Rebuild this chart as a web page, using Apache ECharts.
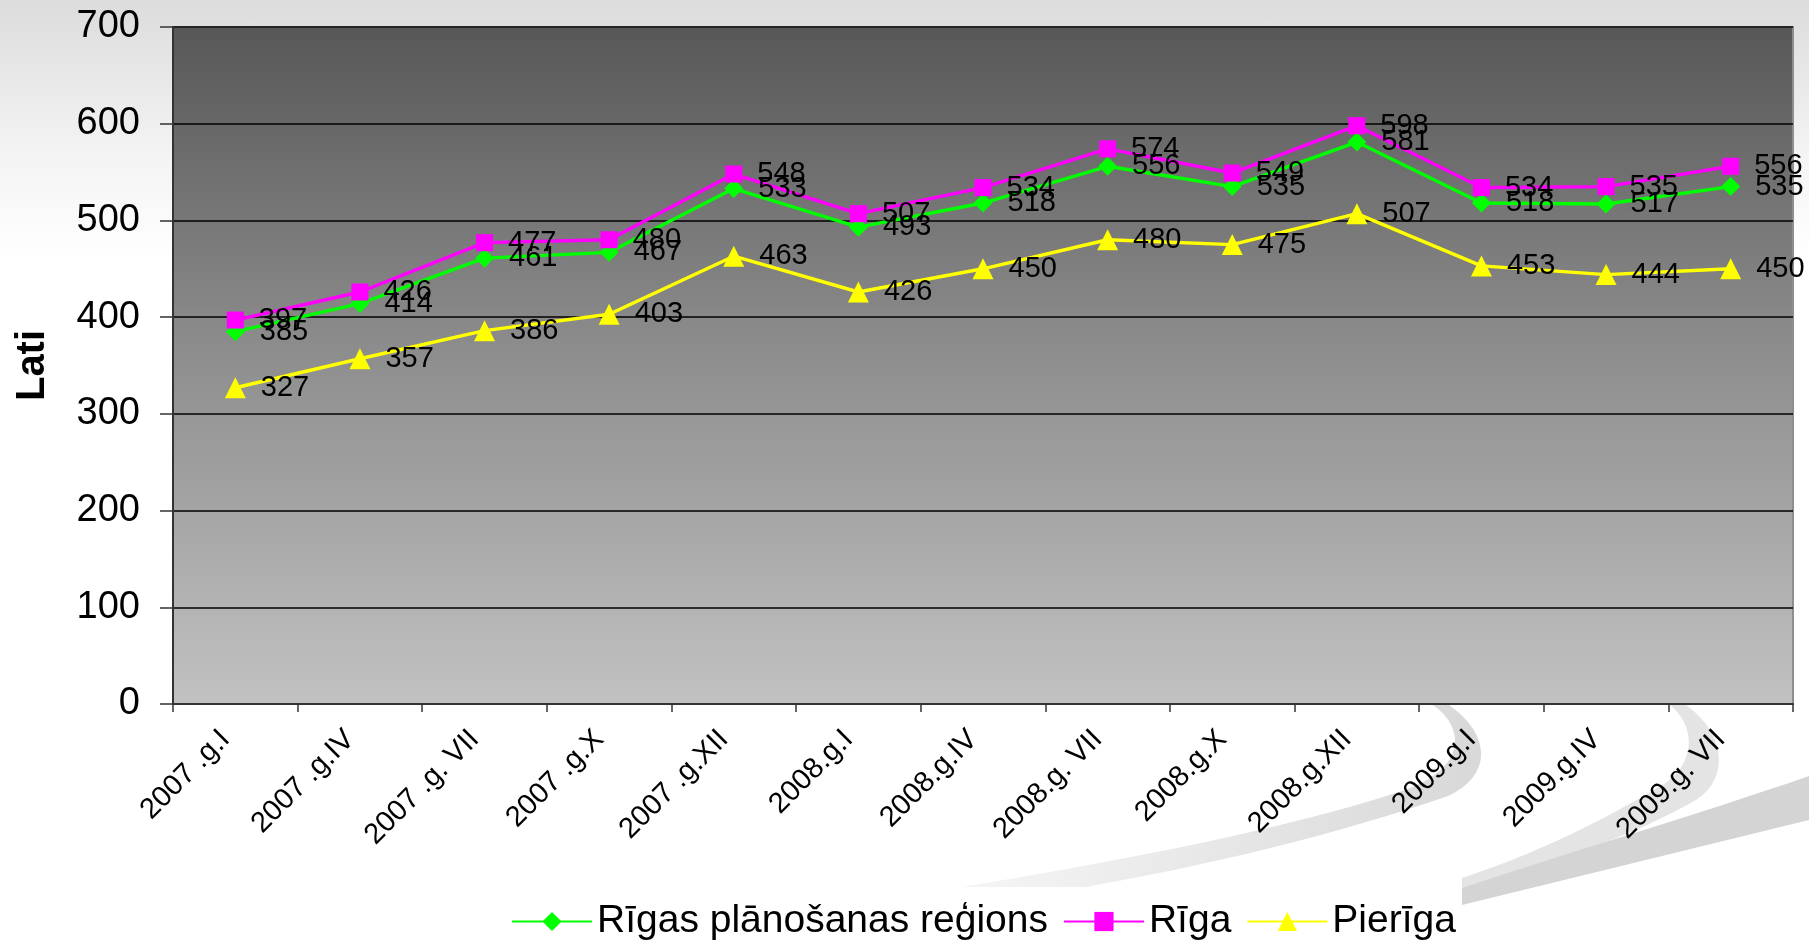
<!DOCTYPE html>
<html>
<head>
<meta charset="utf-8">
<script src="https://cdn.jsdelivr.net/npm/echarts@6/dist/echarts.min.js"></script>
<style>
html,body{margin:0;padding:0;width:1809px;height:944px;overflow:hidden;
background:linear-gradient(to bottom,#dcdcdc 0px,#f3f3f3 150px,#ffffff 260px,#ffffff 944px);}
#c{width:1809px;height:944px;}
</style>
</head>
<body>
<div id="c"></div>
<script>
const categories = ['2007 .g.I','2007 .g.IV','2007 .g. VII','2007 .g.X','2007 .g.XII','2008.g.I','2008.g.IV','2008.g. VII','2008.g.X','2008.g.XII','2009.g.I','2009.g.IV','2009.g. VII'];
const regionValues = [385, 414, 461, 467, 533, 493, 518, 556, 535, 581, 518, 517, 535];
const rigaValues = [397, 426, 477, 480, 548, 507, 534, 574, 549, 598, 534, 535, 556];
const pierigaValues = [327, 357, 386, 403, 463, 426, 450, 480, 475, 507, 453, 444, 450];
const seriesNames = ['Rīgas plānošanas reģions', 'Rīga', 'Pierīga'];
const yTicks = {min: 0, max: 700, interval: 100};

const FONT = "'Liberation Sans', Arial, sans-serif";
const chart = echarts.init(document.getElementById('c'), null, {renderer: 'canvas'});
const LG = echarts.graphic.LinearGradient;

// decorative background swooshes: segments are [start, ctrl1, ctrl2, end] cubic beziers or [start,end] lines
function outline(segs) {
  const pts = [];
  segs.forEach(s => {
    if (s.length === 2) { pts.push(s[0], s[1]); return; }
    for (let i = 0; i <= 16; i++) {
      const t = i / 16, u = 1 - t;
      pts.push([
        u*u*u*s[0][0] + 3*u*u*t*s[1][0] + 3*u*t*t*s[2][0] + t*t*t*s[3][0],
        u*u*u*s[0][1] + 3*u*u*t*s[1][1] + 3*u*t*t*s[2][1] + t*t*t*s[3][1]
      ]);
    }
  });
  return pts;
}
const swoosh1 = outline([
  [[1433,705],[1466,728],[1466,768],[1405,790]],
  [[1405,790],[1320,818],[1190,850],[955,888]],
  [[955,888],[1080,888]],
  [[1080,888],[1210,865],[1335,835],[1448,796]],
  [[1448,796],[1492,776],[1492,735],[1449,705]]
]);
const swoosh2 = outline([
  [[1670,705],[1695,725],[1697,762],[1664,784]],
  [[1664,784],[1600,822],[1540,852],[1462,878]],
  [[1462,878],[1462,890]],
  [[1462,890],[1560,862],[1640,832],[1696,800]],
  [[1696,800],[1728,780],[1728,735],[1686,705]]
]);
const swoosh3 = outline([
  [[1809,776],[1809,820]],
  [[1809,820],[1462,905]],
  [[1462,905],[1462,888]],
  [[1462,888],[1560,855],[1700,814],[1809,776]]
]);

function mkSeries(name, data, color, symbol, size) {
  return {
    name: name, type: 'line', data: data,
    symbol: symbol, symbolSize: size,
    lineStyle: {color: color, width: 3.4},
    itemStyle: {color: color},
    label: {show: true, position: 'right', distance: 15, color: '#000', fontSize: 29, fontFamily: FONT},
    emphasis: {disabled: true},
    animation: false
  };
}

chart.setOption({
  animation: false,
  graphic: [
    {type: 'polygon', z: -1, shape: {points: swoosh1},
     style: {fill: new LG(0, 0, 1, 0, [{offset: 0, color: '#f6f6f6'}, {offset: 1, color: '#d8d8d8'}])}},
    {type: 'polygon', z: -1, shape: {points: swoosh2}, style: {fill: '#e4e4e4'}},
    {type: 'polygon', z: -1, shape: {points: swoosh3}, style: {fill: '#d4d4d4'}},
    {type: 'rect', z: -1, shape: {x: 496, y: 887, width: 966, height: 57}, style: {fill: '#ffffff'}}
  ],
  grid: {
    left: 173, right: 16, top: 27, bottom: 240,
    show: true,
    borderColor: '#8e8e8e', borderWidth: 2,
    backgroundColor: new LG(0, 0, 0, 1, [{offset: 0, color: '#575757'}, {offset: 0.45, color: '#8a8a8a'}, {offset: 1, color: '#c2c2c2'}])
  },
  legend: {
    left: 506, top: 897,
    itemWidth: 80, itemHeight: 24, itemGap: 15,
    textStyle: {color: '#000', fontSize: 39, fontFamily: FONT},
    data: seriesNames
  },
  xAxis: {
    type: 'category', data: categories, boundaryGap: true,
    axisLine: {lineStyle: {color: '#333', width: 2}},
    axisTick: {show: true, length: 8, lineStyle: {color: '#333', width: 1.5}},
    axisLabel: {rotate: 45, fontSize: 29, color: '#000', fontFamily: FONT, margin: 21, padding: [0, 14, 0, 0], interval: 0},
    splitLine: {show: false}
  },
  yAxis: {
    type: 'value', min: yTicks.min, max: yTicks.max, interval: yTicks.interval,
    name: 'Lati', nameLocation: 'middle', nameRotate: 90, nameGap: 120,
    nameTextStyle: {fontSize: 40, fontWeight: 'bold', color: '#000', fontFamily: FONT},
    axisLine: {show: true, lineStyle: {color: '#333', width: 2}},
    axisTick: {show: true, length: 13, lineStyle: {color: '#333', width: 1.5}},
    axisLabel: {fontSize: 38, color: '#000', fontFamily: FONT, margin: 33},
    splitLine: {show: true, lineStyle: {color: '#000', width: 1.5}}
  },
  series: [
    mkSeries(seriesNames[0], regionValues, '#00ff00', 'diamond', 19),
    mkSeries(seriesNames[1], rigaValues, '#ff00ff', 'rect', 17),
    mkSeries(seriesNames[2], pierigaValues, '#ffff00', 'triangle', 21)
  ]
});
</script>
</body>
</html>
